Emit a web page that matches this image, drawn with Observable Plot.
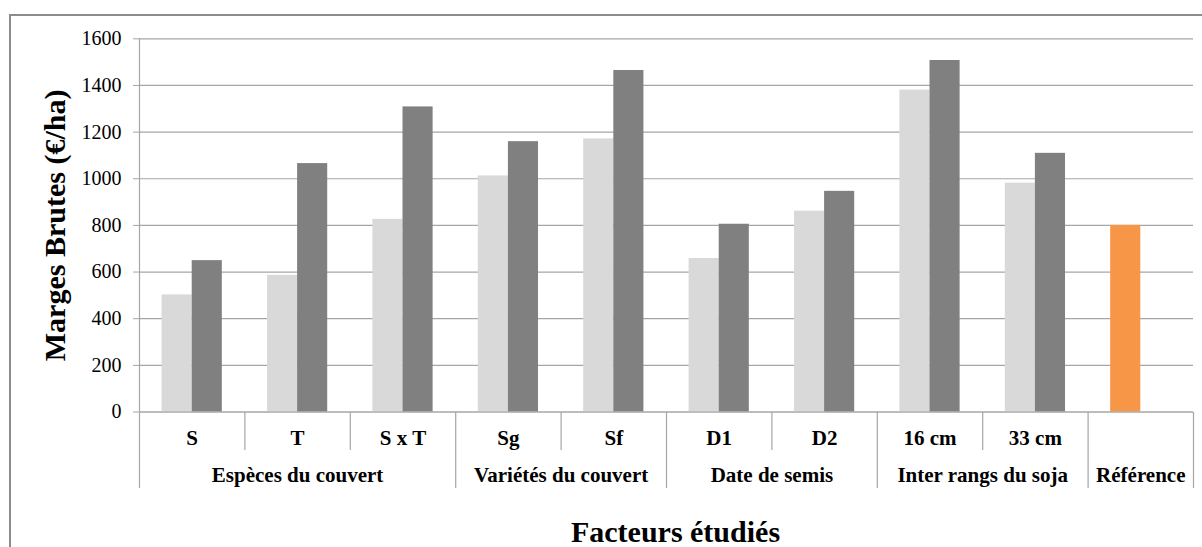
<!DOCTYPE html>
<html>
<head>
<meta charset="utf-8">
<script src="https://cdn.jsdelivr.net/npm/d3@7"></script>
<script src="https://cdn.jsdelivr.net/npm/@observablehq/plot@0.6"></script>
<style>
  html, body { margin: 0; padding: 0; background: #fff; overflow: hidden; }
  #wrap { position: relative; width: 1202px; height: 547px; overflow: hidden; background: #fff; }
  #wrap svg { position: absolute; left: 0; top: 0; }
  #frame { position: absolute; left: 9px; top: 14px; width: 1400px; height: 800px; border: 2px solid #8c8c8c; box-sizing: border-box; pointer-events: none; }
</style>
</head>
<body>
<div id="wrap"></div>
<script>
// ---- Data ----
const categories = ["S", "T", "S x T", "Sg", "Sf", "D1", "D2", "16 cm", "33 cm", "Référence"];
const categoryLabels = ["S", "T", "S x T", "Sg", "Sf", "D1", "D2", "16 cm", "33 cm", ""];
const groups = ["Espèces du couvert", "Espèces du couvert", "Espèces du couvert",
                "Variétés du couvert", "Variétés du couvert",
                "Date de semis", "Date de semis",
                "Inter rangs du soja", "Inter rangs du soja",
                "Référence"];
const serie1 = [502, 586, 826, 1012, 1171, 658, 861, 1380, 981, 800];
const serie2 = [649, 1065, 1308, 1159, 1464, 805, 946, 1507, 1109, null];
const yTicks = [0, 200, 400, 600, 800, 1000, 1200, 1400, 1600];
const colorKeys = ["série 1", "série 2", "référence"];
const colors = ["#d9d9d9", "#808080", "#f79646"];
const yTitle = "Marges Brutes (€/ha)";
const xTitle = "Facteurs étudiés";

// ---- Derived tables ----
const N = categories.length;
const sub = d3.scaleBand().domain([0, 1]).range([0, 1]).paddingInner(0).paddingOuter(0.75);
const bars = [];
categories.forEach((c, i) => {
  [serie1[i], serie2[i]].forEach((v, k) => {
    if (v == null) return;
    bars.push({cat: c, i, k, value: v, key: c === "Référence" ? colorKeys[2] : colorKeys[k]});
  });
});
const spans = [];
groups.forEach((g, i) => {
  const last = spans[spans.length - 1];
  if (last && last.name === g) last.end = i + 1;
  else spans.push({name: g, start: i, end: i + 1});
});
const boundaries = d3.range(N + 1).map(b => ({x: b, long: b === 0 || b === N || groups[b] !== groups[b - 1]}));

const font = "'Liberation Serif', 'Times New Roman', Times, serif";
const gridColor = "#a6a6a6";

const W = 1202, H = 547;
const mL = 139, mR = 9;

const p1 = Plot.plot({
  width: W, height: H,
  marginLeft: mL, marginRight: mR, marginTop: 38.3, marginBottom: 135.5,
  style: {background: "transparent", fontFamily: font, color: "#000"},
  x: {domain: [0, N], axis: null},
  y: {domain: [0, 1600], axis: null},
  color: {domain: colorKeys, range: colors},
  marks: [
    Plot.gridY(yTicks, {stroke: gridColor, strokeOpacity: 1, strokeWidth: 1.2}),
    Plot.rectY(bars, {
      x1: d => d.i + sub(d.k),
      x2: d => d.i + sub(d.k) + sub.bandwidth(),
      y: "value",
      fill: "key"
    }),
    Plot.ruleY([0], {stroke: gridColor, strokeWidth: 1.2}),
    Plot.ruleX([0], {stroke: gridColor, strokeWidth: 1.2}),
    Plot.axisY(yTicks, {tickSize: 6, tickPadding: 12, fontSize: 20, stroke: gridColor, strokeOpacity: 1, label: null, tickFormat: d => String(d)}),
    Plot.text([yTitle], {frameAnchor: "left", textAnchor: "middle", rotate: -90, dx: -84, fontSize: 30, fontWeight: "bold"})
  ]
});

const p2 = Plot.plot({
  width: W, height: H,
  marginLeft: mL, marginRight: mR, marginTop: 411.5, marginBottom: 58.5,
  style: {background: "transparent", fontFamily: font, color: "#000"},
  x: {domain: [0, N], axis: null},
  y: {type: "band", domain: ["r1", "r2"], padding: 0, axis: null},
  marks: [
    Plot.ruleX(boundaries, {x: "x", y1: () => "r1", y2: d => d.long ? "r2" : "r1", stroke: gridColor, strokeWidth: 1.2}),
    Plot.text(categories, {x: (d, i) => i + 0.5, y: () => "r1", text: (d, i) => categoryLabels[i], fontSize: 21, fontWeight: "bold", dy: 7}),
    Plot.text(spans, {x: d => (d.start + d.end) / 2, y: () => "r2", text: "name", fontSize: 21, fontWeight: "bold", dy: 6, letterSpacing: 0.3}),
    Plot.text([xTitle], {frameAnchor: "bottom", dx: 9, dy: 53, fontSize: 30, fontWeight: "bold"})
  ]
});

const wrap = document.getElementById("wrap");
wrap.appendChild(p1);
wrap.appendChild(p2);
const frame = document.createElement("div");
frame.id = "frame";
wrap.appendChild(frame);
</script>
</body>
</html>
